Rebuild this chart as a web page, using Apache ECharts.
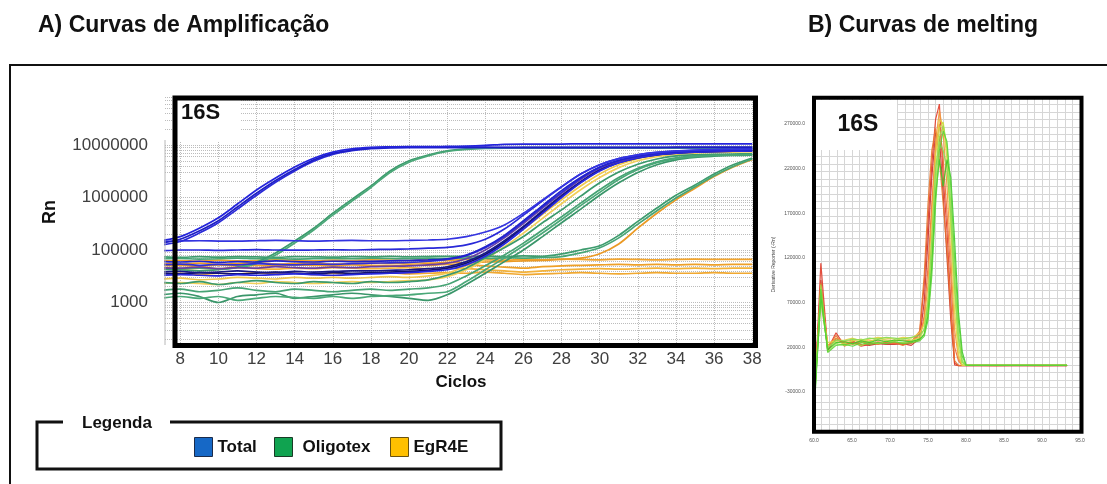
<!DOCTYPE html>
<html><head><meta charset="utf-8">
<script src="https://cdn.jsdelivr.net/npm/echarts@6/dist/echarts.min.js"></script>
<style>html,body{margin:0;padding:0;background:#fff}#c{width:1107px;height:484px}</style>
</head><body><div id="c"></div>
<script>
// ---------- DATA: amplification (Rn vs cycle) ----------
const cycles = [7,8,9,10,11,12,13,14,15,16,17,18,19,20,21,22,23,24,25,26,27,28,29,30,31,32,33,34,35,36,37,38];
const ampXTicks = [8,10,12,14,16,18,20,22,24,26,28,30,32,34,36,38];
const ampYTickValues = [1e4,1e5,1e6,1e7];
const ampYTickLabels = ['1000','100000','1000000','10000000'];

const totalE1 = [1.5e5,1.8e5,2.6e5,4.1e5,7.5e5,1.39e6,2.35e6,3.8e6,5.6e6,7.3e6,8.4e6,9.0e6,9.2e6,9.3e6,9.3e6,9.4e6, 9.5e6,9.8e6,1.03e7,1.04e7,1.04e7,1.04e7,1.05e7,1.05e7,1.05e7,1.05e7,1.05e7,1.05e7,1.05e7,1.05e7,1.05e7,1.05e7];
const totalE2 = [1.35e5,1.6e5,2.3e5,3.6e5,6.6e5,1.2e6,2.1e6,3.4e6,5.2e6,6.9e6,8.0e6,8.7e6,9.0e6,9.1e6,9.1e6,9.1e6, 9.1e6,9.1e6,9.0e6,9.0e6,9.0e6,9.0e6,9.0e6,9.0e6,9.0e6,9.0e6,9.0e6,9.1e6,9.1e6,9.1e6,9.1e6,9.1e6];
const totalE3 = [1.25e5,1.45e5,2.1e5,3.3e5,6.0e5,1.1e6,1.95e6,3.2e6,4.9e6,6.6e6,7.8e6,8.5e6,8.8e6,8.9e6,8.9e6,8.9e6, 8.9e6,8.9e6,8.9e6,8.9e6,8.9e6,8.9e6,8.9e6,8.9e6,8.9e6,8.9e6,8.9e6,8.9e6,8.9e6,8.9e6,8.9e6,8.9e6];
const totalL1 = [1.45e5,1.48e5,1.5e5,1.48e5,1.47e5,1.5e5,1.52e5,1.5e5,1.48e5,1.5e5,1.52e5,1.5e5,1.5e5,1.52e5,1.55e5,1.6e5, 1.8e5,2.2e5,3.0e5,5.0e5,9.0e5,1.6e6,2.8e6,4.2e6,5.5e6,6.5e6,7.2e6,7.7e6,8.0e6,8.2e6,8.3e6,8.4e6];
const totalL2 = [9.6e4,1.0e5,1.0e5,9.8e4,1.0e5,1.02e5,1.0e5,9.9e4,1.0e5,1.01e5,1.0e5,1.02e5,1.03e5,1.05e5,1.08e5,1.12e5, 1.25e5,1.6e5,2.5e5,4.6e5,8.6e5,1.6e6,2.8e6,4.2e6,5.5e6,6.5e6,7.2e6,7.6e6,7.9e6,8.1e6,8.2e6,8.3e6];
const totalL3 = [6.0e4,5.9e4,6.1e4,5.8e4,6.0e4,5.9e4,6.2e4,6.0e4,5.9e4,6.1e4,6.0e4,6.1e4,6.2e4,6.3e4,6.5e4,6.8e4, 8.0e4,1.15e5,1.9e5,3.6e5,7.0e5,1.35e6,2.4e6,3.8e6,5.1e6,6.1e6,6.8e6,7.3e6,7.6e6,7.8e6,7.9e6,8.0e6];
const totalL4 = [4.6e4,4.5e4,4.7e4,4.4e4,4.6e4,4.5e4,4.8e4,4.6e4,4.5e4,4.7e4,4.6e4,4.8e4,4.9e4,5.0e4,5.2e4,5.6e4, 6.8e4,1.0e5,1.7e5,3.2e5,6.3e5,1.2e6,2.2e6,3.6e6,4.9e6,6.0e6,6.8e6,7.3e6,7.6e6,7.8e6,7.9e6,8.0e6];
const totalL5 = [3.8e4,3.9e4,3.7e4,3.8e4,4.0e4,3.8e4,3.7e4,3.9e4,3.8e4,3.9e4,4.0e4,4.0e4,4.1e4,4.2e4,4.4e4,4.8e4, 6.0e4,8.8e4,1.5e5,2.8e5,5.6e5,1.1e6,2.0e6,3.4e6,4.7e6,5.8e6,6.6e6,7.1e6,7.4e6,7.6e6,7.7e6,7.8e6];
const totalL6 = [3.3e4,3.4e4,3.3e4,3.2e4,3.4e4,3.3e4,3.4e4,3.5e4,3.4e4,3.3e4,3.4e4,3.5e4,3.6e4,3.7e4,3.9e4,4.2e4, 5.2e4,7.6e4,1.3e5,2.5e5,5.0e5,1.0e6,1.9e6,3.2e6,4.6e6,5.7e6,6.5e6,7.0e6,7.3e6,7.5e6,7.6e6,7.7e6];
const totalL7 = [5.2e4,5.4e4,5.1e4,5.3e4,5.2e4,5.5e4,5.3e4,5.2e4,5.4e4,5.3e4,5.5e4,5.6e4,5.7e4,5.8e4,6.1e4,6.6e4, 7.8e4,1.1e5,1.8e5,3.4e5,6.6e5,1.25e6,2.3e6,3.7e6,5.0e6,6.0e6,6.7e6,7.2e6,7.5e6,7.7e6,7.8e6,7.9e6];
const totalL8 = [3.6e4,3.5e4,3.7e4,3.6e4,3.5e4,3.6e4,3.8e4,3.6e4,3.5e4,3.7e4,3.6e4,3.7e4,3.8e4,3.9e4,4.1e4,4.5e4, 5.6e4,8.2e4,1.4e5,2.7e5,5.3e5,1.05e6,1.95e6,3.3e6,4.6e6,5.7e6,6.5e6,7.0e6,7.3e6,7.5e6,7.6e6,7.7e6];

const oligoE1 = [4.3e4,4.2e4,4.0e4,4.2e4,4.7e4,5.9e4,8.8e4,1.48e5,2.6e5,5.0e5,9.2e5,1.66e6,3.2e6,5.0e6,6.45e6,7.7e6, 8.4e6,8.8e6,8.8e6,8.9e6,8.9e6,8.9e6,8.9e6,8.9e6,8.9e6,8.9e6,8.9e6,8.9e6,8.9e6,8.9e6,8.9e6,8.9e6];
const oligoE2 = [4.6e4,4.4e4,4.5e4,4.3e4,4.6e4,5.5e4,8.0e4,1.35e5,2.4e5,4.6e5,8.5e5,1.55e6,3.0e6,4.7e6,6.2e6,7.5e6, 8.2e6,8.6e6,8.7e6,8.7e6,8.7e6,8.7e6,8.7e6,8.7e6,8.7e6,8.7e6,8.7e6,8.7e6,8.7e6,8.7e6,8.7e6,8.7e6];
const oligoM1 = [2.4e4,2.3e4,2.5e4,2.2e4,2.4e4,2.6e4,2.4e4,2.3e4,2.5e4,2.4e4,2.3e4,2.5e4,2.4e4,2.5e4,2.7e4,3.3e4, 4.5e4,7.1e4,1.1e5,1.8e5,3.3e5,5.8e5,1.06e6,1.9e6,3.05e6,4.3e6,5.4e6,6.2e6,6.5e6,6.6e6,6.7e6,6.8e6];
const oligoM2 = [1.7e4,1.8e4,1.6e4,1.7e4,1.9e4,1.7e4,1.6e4,1.8e4,1.7e4,1.6e4,1.7e4,1.8e4,1.7e4,1.8e4,1.9e4,2.2e4, 3.2e4,5.0e4,8.0e4,1.35e5,2.4e5,4.3e5,7.8e5,1.4e6,2.4e6,3.6e6,4.8e6,5.7e6,6.2e6,6.4e6,6.5e6,6.6e6];
const oligoM3 = [1.4e4,1.5e4,1.3e4,1.0e4,1.3e4,1.4e4,1.5e4,1.2e4,1.3e4,1.4e4,1.5e4,1.4e4,1.3e4,1.2e4,1.1e4,1.4e4, 2.2e4,3.6e4,6.0e4,1.0e5,1.8e5,3.3e5,6.0e5,1.1e6,1.9e6,3.0e6,4.2e6,5.2e6,5.8e6,6.1e6,6.3e6,6.4e6];
const oligoM4 = [1.2e4,1.3e4,1.2e4,1.3e4,1.1e4,1.2e4,1.3e4,1.25e4,1.2e4,1.3e4,1.2e4,1.3e4,1.35e4,1.4e4,1.5e4,1.6e4, 2.5e4,4.2e4,7.0e4,1.2e5,2.1e5,3.8e5,7.0e5,1.25e6,2.2e6,3.4e6,4.6e6,5.5e6,6.0e6,6.3e6,6.4e6,6.5e6];
const oligoL1 = [7.4e4,7.2e4,7.5e4,7.3e4,7.5e4,7.4e4,7.2e4,7.5e4,7.4e4,7.3e4,7.5e4,7.4e4,7.6e4,7.4e4,7.5e4,7.6e4, 7.5e4,7.6e4,7.5e4,7.7e4,7.6e4,8.4e4,1.0e5,1.2e5,1.9e5,3.5e5,6.3e5,1.1e6,1.73e6,2.8e6,4.2e6,5.65e6];
const oligoL2 = [6.8e4,6.9e4,6.7e4,6.8e4,7.0e4,6.8e4,6.9e4,6.7e4,6.8e4,6.9e4,6.8e4,7.0e4,6.9e4,6.8e4,7.0e4,6.9e4, 7.0e4,6.9e4,7.1e4,7.0e4,7.2e4,7.5e4,8.8e4,1.1e5,1.7e5,3.1e5,5.6e5,9.8e5,1.6e6,2.6e6,3.9e6,5.4e6];

const egrY1 = [2.3e4,2.4e4,2.3e4,2.2e4,2.4e4,2.3e4,2.5e4,2.4e4,2.3e4,2.4e4,2.5e4,2.4e4,2.5e4,2.6e4,2.7e4,3.1e4, 4.2e4,6.6e4,1.15e5,2.1e5,4.0e5,7.6e5,1.4e6,2.4e6,3.7e6,5.0e6,6.0e6,6.6e6,7.0e6,7.2e6,7.3e6,7.4e6];
const egrY2 = [2.8e4,2.9e4,2.7e4,2.8e4,3.0e4,2.9e4,2.8e4,3.0e4,2.9e4,3.0e4,2.9e4,3.0e4,3.1e4,3.0e4,3.2e4,3.6e4, 5.0e4,7.8e4,1.35e5,2.5e5,4.8e5,9.0e5,1.65e6,2.8e6,4.2e6,5.5e6,6.4e6,7.0e6,7.3e6,7.5e6,7.6e6,7.7e6];
const egrL1 = [5.5e4,5.4e4,5.6e4,5.3e4,5.5e4,5.7e4,5.4e4,5.5e4,5.6e4,5.4e4,5.5e4,5.6e4,5.5e4,5.7e4,5.6e4,5.8e4, 5.7e4,5.9e4,6.0e4,6.2e4,6.3e4,6.6e4,7.0e4,8.5e4,1.3e5,2.6e5,5.0e5,9.0e5,1.5e6,2.5e6,3.8e6,5.3e6];
const egrF1 = [6.2e4,6.3e4,6.1e4,6.4e4,6.2e4,6.3e4,6.5e4,6.3e4,6.2e4,6.4e4,6.3e4,6.5e4,6.4e4,6.3e4,6.5e4,6.4e4, 6.6e4,6.5e4,6.4e4,6.6e4,6.5e4,6.7e4,6.6e4,6.5e4,6.7e4,6.6e4,6.5e4,6.6e4,6.7e4,6.6e4,6.6e4,6.6e4];
const egrF2 = [5.0e4,5.1e4,4.9e4,5.2e4,5.0e4,5.1e4,5.0e4,5.2e4,5.1e4,5.0e4,5.2e4,5.1e4,5.0e4,5.2e4,5.1e4,5.3e4, 5.2e4,5.0e4,4.7e4,4.5e4,4.8e4,5.0e4,5.1e4,5.2e4,5.3e4,5.2e4,5.3e4,5.2e4,5.3e4,5.2e4,5.3e4,5.3e4];
const egrF3 = [4.4e4,4.3e4,4.5e4,4.4e4,4.6e4,4.4e4,4.3e4,4.5e4,4.4e4,4.6e4,4.5e4,4.4e4,4.5e4,4.6e4,4.4e4,4.5e4, 4.4e4,4.2e4,4.0e4,3.8e4,4.0e4,4.2e4,4.3e4,4.4e4,4.3e4,4.4e4,4.5e4,4.4e4,4.5e4,4.4e4,4.5e4,4.5e4];
const egrF4 = [3.5e4,3.6e4,3.4e4,3.6e4,3.5e4,3.7e4,3.5e4,3.6e4,3.4e4,3.6e4,3.5e4,3.6e4,3.7e4,3.5e4,3.6e4,3.7e4, 3.6e4,3.8e4,3.6e4,3.4e4,3.5e4,3.6e4,3.7e4,3.6e4,3.5e4,3.6e4,3.7e4,3.6e4,3.6e4,3.7e4,3.6e4,3.6e4];

// ---------- DATA: melting (derivative reporter vs temperature) ----------
const meltT = [60.0,60.9,61.8,62.9,64.0,65.1,66.2,67.3,68.4,69.5,70.6,71.7,72.8,73.9,74.5,75.0,75.5,76.0,76.5,77.0,77.5,78.0,78.5,79.0,79.5,80.0,80.6,82.0,84.0,86.0,88.0,90.0,92.0,93.3];
const meltXTicks = [60,65,70,75,80,85,90,95];
const meltYTicks = [-30000,20000,70000,120000,170000,220000,270000];
const meltR1 = [-50000,114000,18000,36000,22000,27000,21000,23000,25000,24000,25000,23000,25000,35000, 90000,160000,225000,275000,292000,210000,150000,70000,0,-800,-800,-700, -700,-600,-600,-700,-600,-600,-700,-700];
const meltR2 = [-45000,95000,16000,30000,24000,25000,23000,22000,24000,23000,23000,24000,22000,30000, 70000,140000,210000,260000,255000,190000,120000,50000,2000,-600,-600,-600, -600,-600,-500,-600,-600,-500,-600,-600];
const meltR3 = [-40000,88000,20000,28000,25000,23000,26000,24000,26000,25000,24000,25000,24000,28000, 55000,110000,180000,240000,270000,230000,170000,100000,20000,5000,-500,-500, -500,-500,-600,-500,-500,-600,-500,-500];
const meltO1 = [-42000,80000,22000,30000,26000,28000,25000,27000,28000,28000,27000,28000,27000,32000, 50000,90000,170000,250000,285000,260000,200000,120000,40000,8000,-500,-500, -500,-500,-500,-500,-500,-500,-500,-500];
const meltO2 = [-44000,92000,19000,33000,21000,26000,22000,25000,23000,26000,25000,22000,26000,38000, 100000,180000,240000,265000,230000,180000,130000,60000,5000,-500,-500,-500, -500,-500,-500,-500,-500,-500,-500,-500];
const meltY1 = [-38000,75000,25000,27000,28000,30000,27000,29000,31000,30000,29000,31000,30000,36000, 45000,75000,150000,235000,275000,270000,230000,150000,60000,12000,-500,-500, -500,-500,-500,-500,-500,-500,-500,-500];
const meltY2 = [-40000,70000,20000,26000,24000,27000,29000,26000,30000,28000,27000,30000,28000,30000, 40000,65000,130000,215000,265000,272000,240000,160000,80000,20000,0,-500, -500,-500,-500,-500,-500,-500,-500,-500];
const meltG1 = [-48000,90000,15000,24000,22000,24000,22000,26000,24000,27000,26000,25000,27000,28000, 35000,60000,120000,200000,255000,268000,245000,180000,100000,35000,5000,-500, -500,-500,-500,-500,-500,-500,-500,-500];
const meltG2 = [-52000,85000,14000,22000,23000,21000,25000,23000,25000,24000,26000,24000,25000,27000, 32000,50000,100000,180000,240000,262000,250000,200000,120000,50000,10000,0, -500,-500,-500,-500,-500,-500,-500,-500];
const meltG3 = [-55000,78000,17000,25000,26000,24000,27000,25000,28000,26000,28000,27000,26000,29000, 34000,55000,110000,190000,230000,200000,230000,210000,140000,60000,15000,0, -500,-500,-500,-500,-500,-500,-500,-500];
const meltG4 = [-46000,72000,19000,28000,27000,29000,28000,30000,29000,31000,30000,29000,31000,33000, 40000,70000,140000,220000,250000,240000,220000,170000,90000,30000,3000,-500, -500,-500,-500,-500,-500,-500,-500,-500];

// ---------- BUILD ----------
const FONT = '"Liberation Sans", Arial, sans-serif';
const ampLines = [
  ['EgR4E', egrF1, '#f2a42c'], ['EgR4E', egrF2, '#eea028'], ['EgR4E', egrF3, '#f3b23a'], ['EgR4E', egrF4, '#f0a830'],
  ['EgR4E', egrL1, '#eb9a25'], ['EgR4E', egrY1, '#f2cf5a'], ['EgR4E', egrY2, '#f0c84e'],
  ['Oligotex', oligoL1, '#3d9c6e'], ['Oligotex', oligoL2, '#48a676'],
  ['Oligotex', oligoM1, '#3b9a6c'], ['Oligotex', oligoM2, '#46a374'], ['Oligotex', oligoM3, '#3a966a'], ['Oligotex', oligoM4, '#4aa878'],
  ['Oligotex', oligoE1, '#3c9b6d'], ['Oligotex', oligoE2, '#4ba879'],
  ['Total', totalL8, '#12126e'], ['Total', totalL5, '#181888'], ['Total', totalL6, '#2828e0'], ['Total', totalL4, '#6a3fa2'],
  ['Total', totalL7, '#2f2fd6'], ['Total', totalL3, '#2222cc'], ['Total', totalL2, '#2a2ad8'], ['Total', totalL1, '#3434e0'],
  ['Total', totalE3, '#2a2ad8'], ['Total', totalE2, '#1e1ec4'], ['Total', totalE1, '#2424dc']
];
const meltLines = [
  [meltR2, '#c9302a'], [meltR1, '#e23c2a'], [meltO2, '#e8752e'], [meltR3, '#f06a35'], [meltO1, '#f29a38'],
  [meltY1, '#e6cf45'], [meltY2, '#c9e04a'], [meltG4, '#86dc55'], [meltG1, '#9be04a'], [meltG3, '#3fc72a'], [meltG2, '#5fd43a']
];

const series = [];
// dotted log grid for amplification panel (axis structure)
const gridLines = [];
ampXTicks.forEach(x => gridLines.push({xAxis: x}));
for (let n = 3; n <= 7; n++) for (let m = 1; m <= 9; m++) {
  const v = m * Math.pow(10, n);
  if (v > 1419 && v < 8.2e7) gridLines.push({yAxis: v});
}
series.push({
  name: '_grid', type: 'line', xAxisIndex: 0, yAxisIndex: 0, data: [], silent: true,
  markLine: { silent: true, symbol: 'none', z: 1, label: {show: false}, animation: false,
    lineStyle: {type: 'dotted', color: '#bcbcbc', width: 1}, emphasis: {disabled: true}, data: gridLines }
});
ampLines.forEach(([name, arr, color]) => {
  series.push({
    name, type: 'line', xAxisIndex: 0, yAxisIndex: 0, symbol: 'none', smooth: 0.3, silent: true,
    color, lineStyle: {color, width: 1.7},
    data: cycles.map((c, i) => [c, arr[i]])
  });
});
meltLines.forEach(([arr, color], k) => {
  series.push({
    name: 'melt' + k, type: 'line', xAxisIndex: 1, yAxisIndex: 1, symbol: 'none', silent: true,
    color, lineStyle: {color, width: 1.2, opacity: 0.9},
    data: meltT.map((t, i) => [t, arr[i]])
  });
});

const legendBase = {
  top: 432, itemWidth: 18, itemHeight: 19, selectedMode: false,
  textStyle: {fontSize: 17, fontWeight: 'bold', color: '#111', fontFamily: FONT}
};
const option = {
  animation: false,
  textStyle: {fontFamily: FONT},
  legend: [
    Object.assign({}, legendBase, {left: 189, data: [{name: 'Total', icon: 'rect', itemStyle: {color: '#1668c6', borderColor: '#1b2b4a', borderWidth: 1}}]}),
    Object.assign({}, legendBase, {left: 269, data: [{name: 'Oligotex', icon: 'rect', itemStyle: {color: '#10a350', borderColor: '#1a3a26', borderWidth: 1}}], textStyle: Object.assign({}, legendBase.textStyle, {padding: [0,0,0,5]})}),
    Object.assign({}, legendBase, {left: 385, data: [{name: 'EgR4E', icon: 'rect', itemStyle: {color: '#ffc000', borderColor: '#6a5210', borderWidth: 1}}]})
  ],
  grid: [
    {left: 165, top: 97, width: 592, height: 250},
    {left: 814, top: 97, width: 266, height: 335}
  ],
  xAxis: [
    {gridIndex: 0, type: 'value', min: 7.2, max: 38.25,
     axisLine: {show: false}, axisTick: {show: false}, splitLine: {show: false},
     axisLabel: {customValues: ampXTicks, formatter: v => String(Math.round(v)), fontSize: 17, color: '#404040', margin: 4},
     name: 'Ciclos', nameLocation: 'middle', nameGap: 27,
     nameTextStyle: {fontSize: 17, fontWeight: 'bold', color: '#111'}},
    {gridIndex: 1, type: 'value', min: 60, max: 95, interval: 1,
     axisLine: {show: false}, axisTick: {show: false},
     splitLine: {show: true, lineStyle: {color: '#d6d6d6', width: 1}},
     axisLabel: {customValues: meltXTicks, formatter: v => v.toFixed(1), fontSize: 5, color: '#555', margin: 6}}
  ],
  yAxis: [
    {gridIndex: 0, type: 'log', min: 1419, max: 8.2e7,
     axisLine: {show: false}, axisTick: {show: false}, splitLine: {show: false},
     axisLabel: {customValues: ampYTickValues, fontSize: 17, color: '#404040', margin: 17,
       formatter: v => ampYTickLabels[Math.round(Math.log10(v)) - 4]},
     name: 'Rn', nameLocation: 'middle', nameGap: 106,
     nameTextStyle: {fontSize: 18, fontWeight: 'bold', color: '#111', padding: [0, 0, 0, 20]}},
    {gridIndex: 1, type: 'value', min: -75000, max: 300000, interval: 75000 / 9,
     axisLine: {show: false}, axisTick: {show: false},
     splitLine: {show: true, lineStyle: {color: '#d6d6d6', width: 1}},
     axisLabel: {customValues: meltYTicks, formatter: v => v.toFixed(1), fontSize: 5, color: '#555', margin: 9},
     name: 'Derivative Reporter (-Rn)', nameLocation: 'middle', nameGap: 38,
     nameTextStyle: {fontSize: 5, color: '#444'}}
  ],
  graphic: [
    {type: 'polyline', z: 100, shape: {points: [[10, 484], [10, 65], [1107, 65]]}, style: {stroke: '#111', lineWidth: 2, fill: null}},
    {type: 'text', z: 100, style: {text: 'A) Curvas de Amplificação', x: 38, y: 26, fontSize: 23, fontWeight: 'bold', fontFamily: FONT, fill: '#111', verticalAlign: 'middle'}},
    {type: 'text', z: 100, style: {text: 'B) Curvas de melting', x: 808, y: 26, fontSize: 23, fontWeight: 'bold', fontFamily: FONT, fill: '#111', verticalAlign: 'middle'}},
    {type: 'line', z: 50, shape: {x1: 165, y1: 140, x2: 165, y2: 345}, style: {stroke: '#b8b8b8', lineWidth: 1}},
    {type: 'rect', z: 90, shape: {x: 177, y: 100, width: 63, height: 41}, style: {fill: '#fff'}},
    {type: 'text', z: 101, style: {text: '16S', x: 181, y: 113, fontSize: 22, fontWeight: 'bold', fontFamily: FONT, fill: '#111', verticalAlign: 'middle'}},
    {type: 'rect', z: 100, shape: {x: 175, y: 98, width: 580.5, height: 247.5}, style: {fill: null, stroke: '#000', lineWidth: 5}},
    {type: 'rect', z: 90, shape: {x: 816, y: 100, width: 81, height: 50}, style: {fill: '#fff'}},
    {type: 'text', z: 101, style: {text: '16S', x: 858, y: 125, fontSize: 23, fontWeight: 'bold', fontFamily: FONT, fill: '#111', align: 'center', verticalAlign: 'middle'}},
    {type: 'rect', z: 100, shape: {x: 814, y: 97.7, width: 267.5, height: 334}, style: {fill: null, stroke: '#000', lineWidth: 4}},
    {type: 'polyline', z: 100, shape: {points: [[63, 422], [37, 422], [37, 469], [501, 469], [501, 422], [170, 422]]}, style: {stroke: '#111', lineWidth: 3, fill: null}},
    {type: 'text', z: 100, style: {text: 'Legenda', x: 82, y: 423, fontSize: 17, fontWeight: 'bold', fontFamily: FONT, fill: '#111', verticalAlign: 'middle'}}
  ],
  series
};
const chart = echarts.init(document.getElementById('c'), null, {renderer: 'canvas'});
chart.setOption(option);
</script>
</body></html>
